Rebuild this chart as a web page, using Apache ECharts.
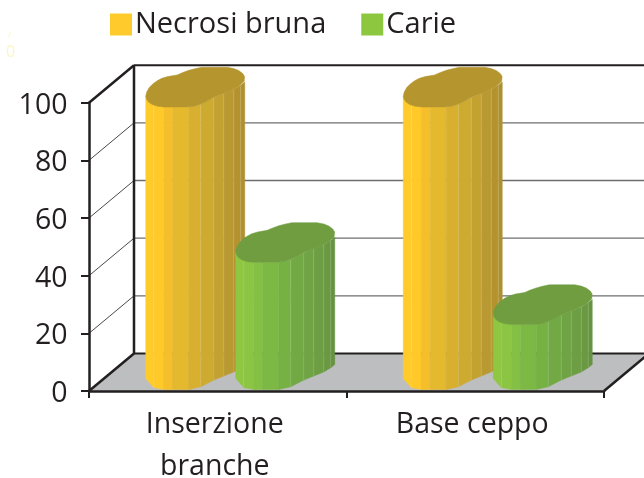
<!DOCTYPE html>
<html><head><meta charset="utf-8">
<style>html,body{margin:0;padding:0;background:#fff}#c{width:644px;height:478px}</style>
<script src="https://cdn.jsdelivr.net/npm/echarts@6/dist/echarts.min.js"></script>
</head><body><div id="c"></div>
<script>
const categories = ['Inserzione\nbranche', 'Base ceppo'];
const necrosiBruna = [100, 100];
const carie = [45, 23];
const yTicks = [0, 20, 40, 60, 80, 100];

const FONT = '"Open Sans"';
const INK = '#231F20';
const DEPTH_X = 45, DEPTH_Y = 37.5;

// top outline of the cylinder, relative to its front-left point
const BLOB = [[0,-11],[1,-15],[3.5,-19.4],[7,-23],[11.4,-26.2],[16,-28.6],[22,-30.4],[31.4,-32],[37,-34.4],[43,-36.6],[49,-38.2],[56,-39.7],[81.4,-39.7],[88,-38.4],[93,-36.4],[97,-33.4],[98.9,-30.4],[98.4,-25.6],[93,-20.6],[84.7,-16.2],[68,-9.6],[60,-5.2],[54.7,-2.8],[48,-0.8],[41.4,0],[18,0],[12,-0.7],[7,-2.2],[3,-4.6],[0.8,-7.6]];
const FACET_X = [0,8,18,27,43,55,68,78,88,95,99];
const FACET_Y = [-11,-1.9,0,0,0,-2.7,-9.4,-13.5,-17.6,-21.8,-25];
const LIGHT_EDGES = [1,5,6,7,8,9];

const yellowFacets = ['#FFCB2B','#FFC92A','#F4BF2B','#E5B92D','#D8AF2F','#CDAA30','#C3A232','#B99A32','#B4932F','#AE9030'];
const greenFacets = ['#8FC742','#8CC543','#84C044','#7CB944','#76B144','#72A944','#6FA344','#6D9E43','#6A9942','#669340'];

function cylinder(facets, topColor, offset) {
  return function (params, api) {
    const c0 = api.coord([api.value(0), 0]);
    const c1 = api.coord([api.value(0), api.value(1)]);
    const x0 = c0[0] + offset;
    const base = c0[1] - 1.5;
    const top = base + (c1[1] - c0[1]) * 0.98;
    const children = [];
    facets.forEach(function (col, i) {
      const pts = [
        [x0 + FACET_X[i], top + FACET_Y[i]],
        [x0 + FACET_X[i + 1], top + FACET_Y[i + 1]],
        [x0 + FACET_X[i + 1], base + FACET_Y[i + 1]],
        [x0 + FACET_X[i], base + FACET_Y[i]]
      ];
      children.push({ type: 'polygon', shape: { points: pts }, style: { fill: col, stroke: col, lineWidth: 0.5 } });
    });
    LIGHT_EDGES.forEach(function (i) {
      children.push({ type: 'line',
        shape: { x1: x0 + FACET_X[i], y1: top + FACET_Y[i], x2: x0 + FACET_X[i], y2: base + FACET_Y[i] },
        style: { stroke: 'rgba(255,255,255,0.2)', lineWidth: 0.8 } });
    });
    children.push({ type: 'polygon',
      shape: { points: BLOB.map(function (p) { return [x0 + p[0], top + p[1]]; }) },
      style: { fill: topColor, stroke: topColor, lineWidth: 0.5 } });
    return { type: 'group', children: children };
  };
}

function frameItem(params, api) {
  const cs = params.coordSys;
  const v = api.value(0);
  const y = api.coord([0, v])[1];
  const L = cs.x, R = cs.x + cs.width;
  const children = [];
  if (v === 0) {
    children.push({ type: 'polygon',
      shape: { points: [[L, y], [R, y], [R + DEPTH_X, y - DEPTH_Y], [L + DEPTH_X, y - DEPTH_Y]] },
      style: { fill: '#BCBEC0' } });
    children.push({ type: 'line',
      shape: { x1: R, y1: y, x2: R + DEPTH_X, y2: y - DEPTH_Y },
      style: { stroke: INK, lineWidth: 2.5 } });
  }
  const strong = v === 0 || v === 100;
  children.push({ type: 'line',
    shape: { x1: L, y1: y, x2: L + DEPTH_X, y2: y - DEPTH_Y },
    style: { stroke: strong ? INK : '#333333', lineWidth: strong ? 2.5 : 0.9 } });
  children.push({ type: 'line',
    shape: { x1: L + DEPTH_X, y1: y - DEPTH_Y, x2: R + DEPTH_X, y2: y - DEPTH_Y },
    style: { stroke: strong ? INK : '#6D6E71', lineWidth: strong ? 2 : 1.3 } });
  if (v === 100) {
    const y0 = api.coord([0, 0])[1];
    children.push({ type: 'line',
      shape: { x1: L + DEPTH_X, y1: y - DEPTH_Y, x2: L + DEPTH_X, y2: y0 - DEPTH_Y },
      style: { stroke: INK, lineWidth: 2.5 } });
  }
  return { type: 'group', children: children };
}

const chart = echarts.init(document.getElementById('c'), null, { renderer: 'canvas', width: 644, height: 478 });
chart.setOption({
  animation: false,
  backgroundColor: '#fff',
  textStyle: { fontFamily: FONT },
  grid: { left: 89, right: 40, top: 102.7, bottom: 87, containLabel: false, outerBoundsMode: 'none' },
  legend: {
    left: 110, top: 10, padding: 0, itemWidth: 22, itemHeight: 22, itemGap: 35,
    icon: 'rect',
    data: ['Necrosi bruna', 'Carie'],
    textStyle: { fontFamily: FONT, fontSize: 29, color: INK, padding: [0, 0, 14, -2] }
  },
  xAxis: {
    type: 'category', data: categories, z: 5,
    axisLine: { lineStyle: { color: INK, width: 2.5 } },
    axisTick: { show: true, length: 7, alignWithLabel: false, lineStyle: { color: INK, width: 2 } },
    axisLabel: { color: INK, fontSize: 28.5, fontFamily: FONT, margin: 13, lineHeight: 42, interval: 0, hideOverlap: false, padding: [0, 6, 0, 0] }
  },
  yAxis: {
    type: 'value', min: 0, max: 100, interval: 20, z: 5,
    axisLine: { show: true, lineStyle: { color: INK, width: 2.5 } },
    axisTick: { show: true, length: 8, lineStyle: { color: INK, width: 2 } },
    axisLabel: { color: INK, fontSize: 28.5, fontFamily: FONT, margin: 21.5, verticalAlign: 'top', lineHeight: 6 },
    splitLine: { show: false }
  },
  graphic: [
    { type: 'text', left: 6, top: 44, silent: true, style: { text: '0', fill: '#FBF6C4', font: '16px ' + FONT } },
    { type: 'text', left: 8, top: 31, silent: true, style: { text: '/', fill: '#FBF6C4', font: '9px ' + FONT } }
  ],
  series: [
    { type: 'custom', name: 'frame', z: 1, clip: false, silent: true, renderItem: frameItem,
      data: yTicks.map(function (v) { return [v]; }), encode: { y: 0 } },
    { type: 'custom', name: 'Necrosi bruna', z: 6, clip: false, itemStyle: { color: '#FFCB2C' },
      renderItem: cylinder(yellowFacets, '#B5952E', -72),
      data: necrosiBruna.map(function (v, i) { return [i, v]; }), encode: { x: 0, y: 1 } },
    { type: 'custom', name: 'Carie', z: 7, clip: false, itemStyle: { color: '#8DC63F' },
      renderItem: cylinder(greenFacets, '#6F9D40', 18),
      data: carie.map(function (v, i) { return [i, v]; }), encode: { x: 0, y: 1 } }
  ]
});
</script></body></html>
